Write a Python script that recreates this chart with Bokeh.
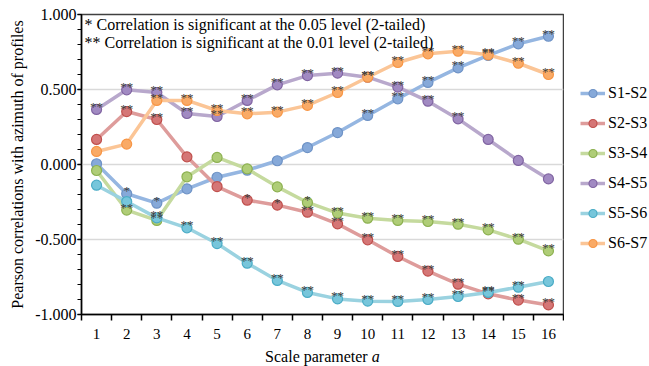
from bokeh.plotting import figure
from bokeh.layouts import column, row
from bokeh.models import (FixedTicker, NumeralTickFormatter, Legend, LegendItem,
                          Label, ColumnDataSource, Range1d)
from bokeh.core.properties import value
from bokeh.embed import file_html
from bokeh.resources import INLINE

scales = list(range(1, 17))
tick_labels = [str(s) for s in scales]

series_names = ["S1-S2", "S2-S3", "S3-S4", "S4-S5", "S5-S6", "S6-S7"]

s1_s2 = [0.005, -0.195, -0.258, -0.162, -0.085, -0.038, 0.025, 0.113, 0.213, 0.327,
         0.438, 0.547, 0.644, 0.727, 0.804, 0.855]
s2_s3 = [0.167, 0.353, 0.300, 0.051, -0.147, -0.238, -0.271, -0.318, -0.396, -0.502,
         -0.613, -0.711, -0.798, -0.862, -0.904, -0.936]
s3_s4 = [-0.040, -0.304, -0.373, -0.082, 0.047, -0.029, -0.149, -0.253, -0.324, -0.358,
         -0.373, -0.380, -0.398, -0.436, -0.498, -0.576]
s4_s5 = [0.367, 0.498, 0.480, 0.340, 0.320, 0.427, 0.531, 0.593, 0.609, 0.582,
         0.516, 0.422, 0.304, 0.167, 0.027, -0.096]
s5_s6 = [-0.138, -0.247, -0.356, -0.422, -0.527, -0.658, -0.773, -0.853, -0.896, -0.911,
         -0.913, -0.900, -0.880, -0.853, -0.818, -0.780]
s6_s7 = [0.087, 0.136, 0.427, 0.427, 0.360, 0.338, 0.349, 0.394, 0.480, 0.582,
         0.680, 0.738, 0.755, 0.731, 0.675, 0.600]

sig_s1_s2 = ["", "*", "*", "", "", "", "", "", "", "**", "**", "**", "**", "**", "**", "**"]
sig_s2_s3 = ["", "**", "**", "", "", "*", "*", "**", "**", "**", "**", "**", "**", "**", "**", "**"]
sig_s3_s4 = ["", "**", "**", "", "", "", "", "*", "**", "**", "**", "**", "**", "**", "**", "**"]
sig_s4_s5 = ["**", "**", "**", "**", "**", "**", "**", "**", "**", "**", "**", "**", "**", "", "", ""]
sig_s5_s6 = ["", "", "**", "**", "**", "**", "**", "**", "**", "**", "**", "**", "**", "**", "**", ""]
sig_s6_s7 = ["", "", "**", "**", "**", "**", "**", "**", "**", "**", "**", "**", "**", "**", "**", "**"]

note_lines = ["* Correlation is significant at the 0.05 level (2-tailed)",
              "** Correlation is significant at the 0.01 level (2-tailed)"]

y_title = "Pearson correlations with azimuth of profiles"
x_title_main = "Scale parameter"
x_title_var = "a"

values_all = [s1_s2, s2_s3, s3_s4, s4_s5, s5_s6, s6_s7]
sig_all = [sig_s1_s2, sig_s2_s3, sig_s3_s4, sig_s4_s5, sig_s5_s6, sig_s6_s7]

line_colors = ["#95B6E1", "#DE9C9B", "#C5DA9E", "#B8A8CC", "#9AD2E0", "#FBC596"]
fill_colors = ["#86A9D9", "#D57676", "#AFCD77", "#A18AC2", "#77C6DB", "#F9AA66"]
edge_colors = ["#6F93C6", "#C0504D", "#8DB151", "#8064A2", "#4BACC6", "#F79646"]

FONT = "Liberation Serif"
LEFT = 81
MAIN_W = 564
LEG_W = 649 - MAIN_W

p = figure(width=MAIN_W, height=345, output_backend="svg", toolbar_location=None,
           x_range=Range1d(0.5, 16.5), y_range=Range1d(-1.0, 1.0),
           min_border_left=LEFT, min_border_top=14, min_border_right=1,
           min_border_bottom=31)
p.background_fill_color = "white"
p.border_fill_color = "white"
p.outline_line_color = "#404040"
p.outline_line_width = 1.5

# x axis: category boundaries as tick marks, labels in between
p.xaxis.ticker = FixedTicker(ticks=scales, minor_ticks=[s - 0.5 for s in scales] + [16.5])
p.xaxis.major_label_overrides = {s: t for s, t in zip(scales, tick_labels)}
p.xaxis.major_tick_line_color = None
p.xaxis.major_tick_out = 0
p.xaxis.major_tick_in = 0
p.xaxis.minor_tick_line_color = "black"
p.xaxis.minor_tick_line_width = 1.5
p.xaxis.minor_tick_out = 6
p.xaxis.minor_tick_in = 0
p.xaxis.major_label_standoff = 8
p.xaxis.axis_line_color = "black"
p.xaxis.axis_line_width = 1.5

p.yaxis.ticker = FixedTicker(ticks=[-1.0, -0.5, 0.0, 0.5, 1.0],
                             minor_ticks=[round(-1.0 + 0.1 * i, 1) for i in range(21)])
p.yaxis.formatter = NumeralTickFormatter(format="0.000")
p.yaxis.major_tick_out = 4
p.yaxis.major_tick_in = 0
p.yaxis.minor_tick_out = 4
p.yaxis.minor_tick_in = 0
p.yaxis.major_tick_line_color = "black"
p.yaxis.minor_tick_line_color = "black"
p.yaxis.major_tick_line_width = 1.5
p.yaxis.minor_tick_line_width = 1
p.yaxis.major_label_standoff = 1
p.yaxis.axis_line_color = "black"
p.yaxis.axis_line_width = 1.5
p.yaxis.axis_label = y_title
p.yaxis.axis_label_standoff = 6

p.xaxis.major_label_text_font_size = "15px"
p.yaxis.major_label_text_font_size = "16px"
for ax in (p.xaxis[0], p.yaxis[0]):
    ax.major_label_text_font = FONT
    ax.major_label_text_color = "black"
    ax.axis_label_text_font = FONT
    ax.axis_label_text_font_size = "16px"
    ax.axis_label_text_font_style = "normal"
    ax.axis_label_text_color = "black"

p.xgrid.grid_line_color = None
p.ygrid.ticker = FixedTicker(ticks=[-0.5, 0.0, 0.5])
p.ygrid.grid_line_color = "#D9D9D9"
p.ygrid.grid_line_width = 1.5

for name, vals, lc, fc, ec in zip(series_names, values_all, line_colors, fill_colors, edge_colors):
    src = ColumnDataSource(dict(x=scales, y=vals))
    p.line("x", "y", source=src, line_color=lc, line_width=3.5)
    p.scatter("x", "y", source=src, size=10, fill_color=fc, line_color=ec, line_width=1.2)

# significance stars
for vals, sigs in zip(values_all, sig_all):
    xs = [x for x, s in zip(scales, sigs) if s]
    ys = [y for y, s in zip(vals, sigs) if s]
    ts = [s for s in sigs if s]
    src = ColumnDataSource(dict(x=xs, y=ys, t=ts))
    p.text("x", "y", text="t", source=src, text_font=value(FONT), text_font_size="13px",
           text_color="#404040", text_align="center", text_baseline="middle", y_offset=-3)

for i, line in enumerate(note_lines):
    p.add_layout(Label(x=0.5, y=1.0, x_offset=3, y_offset=-10 - 18 * i, text=line,
                       text_font=FONT, text_font_size="16px", text_color="black",
                       text_baseline="middle", text_align="left"))

# x axis title (with italic variable) in a thin strip below the chart
q = figure(width=MAIN_W, height=21, output_backend="svg", toolbar_location=None,
           x_range=p.x_range, y_range=Range1d(0, 1),
           min_border_left=LEFT, min_border_right=1, min_border_top=0, min_border_bottom=0)
q.axis.visible = False
q.grid.grid_line_color = None
q.outline_line_color = None
q.background_fill_color = "white"
q.border_fill_color = "white"
q.text(x=[10.0], y=[0.5], text=[x_title_main], text_font=value(FONT), text_font_size="16px",
       text_color="black", text_align="right", text_baseline="middle", x_offset=0)
q.text(x=[10.0], y=[0.5], text=[x_title_var], text_font=value(FONT), text_font_size="16px",
       text_font_style="italic", text_color="black", text_align="left",
       text_baseline="middle", x_offset=4)

# legend panel on the right (its renderers hold the series data, but their ranges keep it out of view)
lg = figure(width=LEG_W, height=366, output_backend="svg", toolbar_location=None,
            x_range=Range1d(100, 101), y_range=Range1d(100, 101),
            min_border_left=0, min_border_right=0, min_border_top=0, min_border_bottom=0)
lg.axis.visible = False
lg.grid.grid_line_color = None
lg.outline_line_color = None
lg.background_fill_color = "white"
lg.border_fill_color = "white"
items = []
for name, vals, lc, fc, ec in zip(series_names, values_all, line_colors, fill_colors, edge_colors):
    src = ColumnDataSource(dict(x=scales, y=vals))
    ln = lg.line("x", "y", source=src, line_color=lc, line_width=3.5)
    sc = lg.scatter("x", "y", source=src, size=10, fill_color=fc, line_color=ec, line_width=1.2)
    items.append(LegendItem(label=name, renderers=[ln, sc]))
legend = Legend(items=items, location=(16, 113), orientation="vertical",
                background_fill_alpha=0, border_line_color=None,
                glyph_width=25, glyph_height=20, label_height=20, spacing=10,
                label_standoff=3, padding=0, margin=0)
legend.label_text_font = FONT
legend.label_text_font_size = "16px"
legend.label_text_color = "black"
lg.add_layout(legend, "center")

layout = row(column(p, q, spacing=0), lg, spacing=0)
open("out.html", "w").write(file_html(layout, INLINE))
